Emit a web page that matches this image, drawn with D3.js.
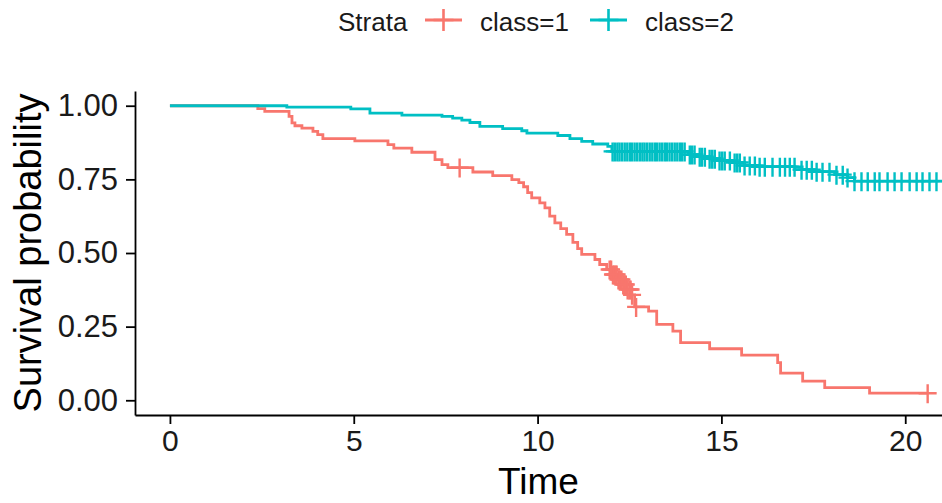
<!DOCTYPE html>
<html>
<head>
<meta charset="utf-8">
<script src="https://cdn.jsdelivr.net/npm/d3@7"></script>
<style>
  body { margin: 0; background: #fff; }
  svg { display: block; font-family: "Liberation Sans", Arial, sans-serif; }
</style>
</head>
<body>
<svg width="942" height="503"></svg>
<script>
// class=1 step curve (event times and survival right after them)
const class1Times = [0, 2.39, 2.58, 3.24, 3.32, 3.40, 3.59, 3.89, 4.02, 4.16, 5.03, 5.93, 6.09, 6.58,
  7.21, 7.40, 7.56, 8.24, 8.78, 9.30, 9.49, 9.62, 9.73, 9.84, 10.06, 10.20, 10.33, 10.47, 10.63,
  10.79, 10.96, 11.09, 11.20, 11.56, 11.69, 11.88, 12.02, 12.17, 12.30, 12.42, 12.55, 12.64,
  13.02, 13.24, 13.68, 13.89, 14.68, 15.55, 16.53, 16.61, 17.21, 17.81, 19.03];
const class1Surv = [1, 0.990, 0.981, 0.964, 0.942, 0.932, 0.924, 0.913, 0.902, 0.888, 0.881, 0.868, 0.856, 0.842,
  0.817, 0.800, 0.790, 0.775, 0.763, 0.749, 0.739, 0.725, 0.705, 0.687, 0.670, 0.653, 0.625, 0.602, 0.583,
  0.563, 0.536, 0.515, 0.495, 0.478, 0.461, 0.444, 0.427, 0.410, 0.393, 0.376, 0.358, 0.317,
  0.303, 0.258, 0.235, 0.196, 0.175, 0.153, 0.128, 0.092, 0.065, 0.043, 0.024];
const class1Censor = [7.88, 11.96, 12.00, 12.05, 12.08, 12.12, 12.15, 12.20, 12.24, 12.28, 12.33, 12.37,
  12.40, 12.45, 12.50, 12.53, 12.57, 12.68, 20.61];
const class1End = 20.61;

// class=2 step curve
const class2Times = [0, 3.18, 4.92, 5.44, 6.31, 7.40, 7.69, 7.94, 8.16, 8.43, 9.05, 9.57, 9.71, 10.55,
  10.88, 11.20, 11.50, 11.91, 12.02, 14.10, 14.40, 14.68, 14.95, 15.30, 15.63, 16.04, 17.00, 17.54,
  18.08, 18.43, 18.62];
const class2Surv = [1, 0.995, 0.989, 0.975, 0.968, 0.964, 0.958, 0.951, 0.943, 0.930, 0.922, 0.915, 0.907, 0.899,
  0.888, 0.879, 0.870, 0.862, 0.845, 0.834, 0.827, 0.820, 0.814, 0.807, 0.797, 0.793, 0.783, 0.776,
  0.766, 0.756, 0.744];
const class2Censor = [12.04, 12.10, 12.17, 12.23, 12.30, 12.37, 12.44, 12.51, 12.57, 12.64, 12.71, 12.78,
  12.85, 12.91, 12.98, 13.05, 13.12, 13.19, 13.25, 13.32, 13.39, 13.46, 13.52, 13.59, 13.66,
  13.73, 13.80, 13.87, 13.93, 14.00, 14.14, 14.20, 14.27, 14.41, 14.47, 14.55, 14.68, 14.75, 14.82,
  14.95, 15.02, 15.09, 15.23, 15.36, 15.43, 15.50, 15.63, 15.77, 15.91, 16.04, 16.18, 16.39, 16.59,
  16.73, 16.86, 16.99, 17.18, 17.32, 17.46, 17.59, 17.75, 17.94, 18.13, 18.30, 18.43, 18.62, 18.81,
  18.98, 19.17, 19.30, 19.52, 19.71, 19.90, 20.12, 20.31, 20.47, 20.66, 20.85];
const class2End = 21.0;

const xTicks = [0, 5, 10, 15, 20];
const yTicks = [0, 0.25, 0.5, 0.75, 1];
const strata = ["class=1", "class=2"];
const colors = ["#F8766D", "#00BFC4"];

const panelLeft = 135, panelRight = 942, panelTop = 91, panelBottom = 415;

const svg = d3.select("svg");

const x = d3.scaleLinear().domain([-0.95, 21.0]).range([panelLeft, panelRight]);
const y = d3.scaleLinear().domain([-0.05, 1.05]).range([panelBottom, panelTop]);

// survival at a given time from the step table
function survAt(times, surv, t) {
    let s = surv[0];
    times.forEach((tt, i) => { if (tt <= t) s = surv[i]; });
    return s;
}

const series = [
    {times: class1Times, surv: class1Surv, censor: class1Censor, end: class1End},
    {times: class2Times, surv: class2Surv, censor: class2Censor, end: class2End}
];

svg.append("clipPath").attr("id", "panel")
   .append("rect")
   .attr("x", panelLeft).attr("y", 0)
   .attr("width", panelRight - panelLeft).attr("height", panelBottom);

const plot = svg.append("g").attr("clip-path", "url(#panel)");

const line = d3.line()
    .x(d => x(d.time))
    .y(d => y(d.surv))
    .curve(d3.curveStepAfter);

series.forEach((s, k) => {
    const pts = s.times.map((t, i) => ({time: t, surv: s.surv[i]}));
    pts.push({time: s.end, surv: s.surv[s.surv.length - 1]});

    plot.append("path")
        .datum(pts)
        .attr("d", line)
        .attr("fill", "none")
        .attr("stroke", colors[k])
        .attr("stroke-width", 2.8);

    plot.selectAll(".cens" + k)
        .data(s.censor)
        .enter().append("path")
        .attr("class", "cens" + k)
        .attr("transform", d => `translate(${x(d)}, ${y(survAt(s.times, s.surv, d))})`)
        .attr("d", "M-9,0H9M0,-9V10")
        .attr("stroke", colors[k])
        .attr("stroke-width", 2.4)
        .attr("fill", "none");
});

// X axis
const xAxis = svg.append("g")
    .attr("transform", `translate(0, ${panelBottom})`)
    .call(d3.axisBottom(x).tickValues(xTicks).tickSizeOuter(0).tickSizeInner(9).tickPadding(6));
xAxis.select(".domain").attr("stroke", "#000").attr("stroke-width", 1.8);
xAxis.selectAll(".tick line").attr("stroke", "#000").attr("stroke-width", 1.8);
xAxis.selectAll("text")
    .attr("font-size", "30px")
    .attr("fill", "#1a1a1a")
    .attr("font-family", "Liberation Sans, Arial, sans-serif");

// Y axis
const yAxis = svg.append("g")
    .attr("transform", `translate(${panelLeft}, 0)`)
    .call(d3.axisLeft(y).tickValues(yTicks).tickFormat(d3.format(".2f")).tickSizeOuter(0).tickSizeInner(9).tickPadding(8));
yAxis.select(".domain").attr("stroke", "#000").attr("stroke-width", 1.8);
yAxis.selectAll(".tick line").attr("stroke", "#000").attr("stroke-width", 1.8);
yAxis.selectAll("text")
    .attr("font-size", "31px")
    .attr("fill", "#1a1a1a")
    .attr("font-family", "Liberation Sans, Arial, sans-serif");

// axis titles
svg.append("text")
    .attr("x", (panelLeft + panelRight) / 2)
    .attr("y", 494)
    .attr("font-size", "37px")
    .attr("text-anchor", "middle")
    .attr("fill", "#000")
    .text("Time");

svg.append("text")
    .attr("transform", `translate(41, ${(panelTop + panelBottom) / 2}) rotate(-90)`)
    .attr("font-size", "38px")
    .attr("text-anchor", "middle")
    .attr("fill", "#000")
    .text("Survival probability");

// legend
const legend = svg.append("g");
legend.append("text")
    .attr("x", 338).attr("y", 31)
    .attr("font-size", "26px")
    .attr("fill", "#1a1a1a")
    .text("Strata");

const legendX = [425, 590];
strata.forEach((name, k) => {
    const g = legend.append("g").attr("transform", `translate(${legendX[k]}, 20)`);
    g.append("line")
        .attr("x1", 0).attr("x2", 37).attr("y1", 0).attr("y2", 0)
        .attr("stroke", colors[k]).attr("stroke-width", 3);
    g.append("path")
        .attr("d", "M8.5,0H28.5M18.5,-11V11")
        .attr("stroke", colors[k]).attr("stroke-width", 2.6).attr("fill", "none");
    g.append("text")
        .attr("x", 55).attr("y", 11)
        .attr("font-size", "26px")
        .attr("fill", "#1a1a1a")
        .text(name);
});
</script>
</body>
</html>
